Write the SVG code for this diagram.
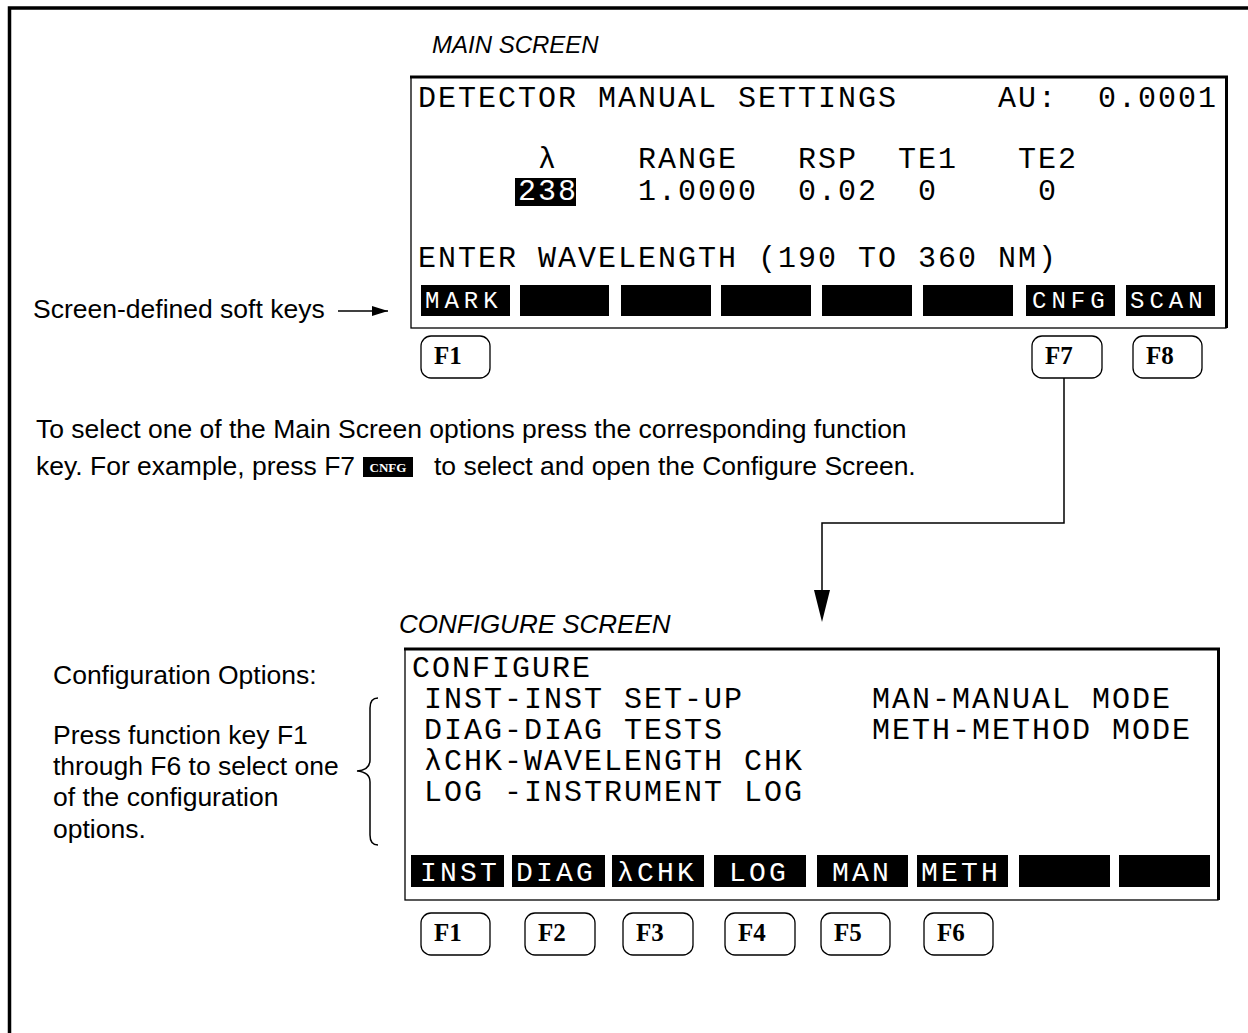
<svg xmlns="http://www.w3.org/2000/svg" width="1248" height="1033" viewBox="0 0 1248 1033">
<style>
.frame{fill:none;stroke:#000;stroke-width:3.5}
.scr{fill:#fff;stroke:#000;stroke-width:1.3}
.thick{fill:none;stroke:#000;stroke-width:3}
.lcd{font-family:"Liberation Mono",monospace;font-size:30px;letter-spacing:2px;fill:#000}
.sk{fill:#000}
.skt{font-family:"Liberation Mono",monospace;font-size:24px;letter-spacing:5px;fill:#fff}
.skt2{font-family:"Liberation Mono",monospace;font-size:28px;letter-spacing:3.2px;fill:#fff}
.fk{fill:#fff;stroke:#000;stroke-width:1.3}
.fkt{font-family:"Liberation Serif",serif;font-weight:bold;font-size:25px;fill:#000}
.ann{font-family:"Liberation Sans",Arial,sans-serif;font-size:26.5px;fill:#000}
.ttl{font-family:"Liberation Sans",Arial,sans-serif;font-style:italic;fill:#000}
.conn{fill:none;stroke:#000;stroke-width:1.5}
</style>
<defs>
<marker id="ah" viewBox="0 0 16 10" refX="16" refY="5" markerWidth="16" markerHeight="10" markerUnits="userSpaceOnUse" orient="auto">
<path d="M0,0 L16,5 L0,10 Z" fill="#000"/>
</marker>
</defs>
<rect width="1248" height="1033" fill="#fff"/>
<path class="frame" d="M9.5,1033 V8 H1248"/>

<g id="main-title"><text class="ttl" x="432" y="53" font-size="24">MAIN SCREEN</text></g>

<g id="main-screen">
<rect class="scr" x="411" y="77" width="815" height="251"/>
<path class="thick" d="M410,77 H1226.5 V328"/>
<text class="lcd" x="418" y="107" xml:space="preserve">DETECTOR MANUAL SETTINGS     AU:  0.0001</text>
<text class="lcd" x="418" y="168" xml:space="preserve">      λ    RANGE   RSP  TE1   TE2</text>
<rect x="515" y="178" width="61" height="28" fill="#000"/>
<text class="lcd" x="418" y="200" xml:space="preserve">     <tspan fill="#fff">238</tspan>   1.0000  0.02  0     0</text>
<text class="lcd" x="418" y="267" xml:space="preserve">ENTER WAVELENGTH (190 TO 360 NM)</text>
<rect class="sk" x="421" y="285" width="89" height="31"/>
<rect class="sk" x="520" y="285" width="89" height="31"/>
<rect class="sk" x="621" y="285" width="90" height="31"/>
<rect class="sk" x="721" y="285" width="90" height="31"/>
<rect class="sk" x="822" y="285" width="90" height="31"/>
<rect class="sk" x="923" y="285" width="90" height="31"/>
<rect class="sk" x="1026" y="285" width="89" height="31"/>
<rect class="sk" x="1126" y="285" width="89" height="31"/>
<text class="skt" x="425" y="308">MARK</text>
<text class="skt" x="1032" y="308">CNFG</text>
<text class="skt" x="1130" y="308">SCAN</text>
</g>

<g id="main-fkeys">
<rect class="fk" x="421" y="336" width="69" height="42" rx="10"/>
<text class="fkt" x="434" y="364">F1</text>
<rect class="fk" x="1032" y="336" width="70" height="42" rx="10"/>
<text class="fkt" x="1045" y="364">F7</text>
<rect class="fk" x="1133" y="336" width="69" height="42" rx="10"/>
<text class="fkt" x="1146" y="364">F8</text>
</g>

<g id="softkeys-label">
<text class="ann" x="33" y="318">Screen-defined soft keys</text>
</g>

<g id="instructions">
<text class="ann" x="36" y="438">To select one of the Main Screen options press the corresponding function</text>
<text class="ann" x="36" y="475">key. For example, press F7</text>
<rect x="363" y="457" width="50" height="20" fill="#000"/>
<text x="388" y="472" text-anchor="middle" font-family="Liberation Serif,serif" font-weight="bold" font-size="13" fill="#fff">CNFG</text>
<text class="ann" x="434" y="475">to select and open the Configure Screen.</text>
</g>

<g id="config-title"><text class="ttl" x="399" y="633" font-size="26">CONFIGURE SCREEN</text></g>

<g id="config-screen">
<rect class="scr" x="405" y="649" width="813" height="251"/>
<path class="thick" d="M404,649 H1218.5 V900"/>
<text class="lcd" x="412" y="677">CONFIGURE</text>
<text class="lcd" x="424" y="708">INST-INST SET-UP</text>
<text class="lcd" x="424" y="739">DIAG-DIAG TESTS</text>
<text class="lcd" x="424" y="770">λCHK-WAVELENGTH CHK</text>
<text class="lcd" x="424" y="801" xml:space="preserve">LOG -INSTRUMENT LOG</text>
<text class="lcd" x="872" y="708">MAN-MANUAL MODE</text>
<text class="lcd" x="872" y="739">METH-METHOD MODE</text>
<rect class="sk" x="411" y="855" width="93" height="32"/>
<rect class="sk" x="512" y="855" width="93" height="32"/>
<rect class="sk" x="612" y="855" width="92" height="32"/>
<rect class="sk" x="714" y="855" width="92" height="32"/>
<rect class="sk" x="817" y="855" width="91" height="32"/>
<rect class="sk" x="917" y="855" width="91" height="32"/>
<rect class="sk" x="1019" y="855" width="91" height="32"/>
<rect class="sk" x="1119" y="855" width="91" height="32"/>
<text class="skt2" x="420" y="881">INST</text>
<text class="skt2" x="516" y="881">DIAG</text>
<text class="skt2" x="617" y="881">λCHK</text>
<text class="skt2" x="729" y="881">LOG</text>
<text class="skt2" x="832" y="881">MAN</text>
<text class="skt2" x="921" y="881">METH</text>
</g>

<g id="config-fkeys">
<rect class="fk" x="421" y="913" width="69" height="42" rx="10"/>
<text class="fkt" x="434" y="941">F1</text>
<rect class="fk" x="525" y="913" width="70" height="42" rx="10"/>
<text class="fkt" x="538" y="941">F2</text>
<rect class="fk" x="623" y="913" width="70" height="42" rx="10"/>
<text class="fkt" x="636" y="941">F3</text>
<rect class="fk" x="725" y="913" width="70" height="42" rx="10"/>
<text class="fkt" x="738" y="941">F4</text>
<rect class="fk" x="821" y="913" width="69" height="42" rx="10"/>
<text class="fkt" x="834" y="941">F5</text>
<rect class="fk" x="924" y="913" width="69" height="42" rx="10"/>
<text class="fkt" x="937" y="941">F6</text>
</g>

<g id="config-notes">
<text class="ann" x="53" y="684">Configuration Options:</text>
<text class="ann" x="53" y="744">Press function key F1</text>
<text class="ann" x="53" y="775">through F6 to select one</text>
<text class="ann" x="53" y="806">of the configuration</text>
<text class="ann" x="53" y="838">options.</text>
<path class="conn" stroke-width="1.2" d="M378,698 Q370,698 370,708 V760 Q370,770 357,771 Q370,772 370,782 V835 Q370,845 378,845"/>
</g>

<g id="connectors">
<line class="conn" x1="338" y1="311" x2="388" y2="311" marker-end="url(#ah)" stroke-width="1.8"/>
<path class="conn" d="M1064,378 V523 H822 V592"/>
<path d="M814,590 L830,590 L822,622 Z" fill="#000"/>
</g>
</svg>
